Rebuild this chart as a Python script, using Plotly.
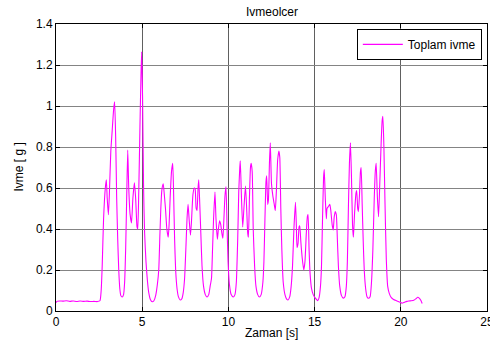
import plotly.graph_objects as go

# Acceleration magnitude over time
zaman = [
    0.00, 0.05, 0.20, 0.40, 0.60, 0.80, 1.00, 1.20, 1.40, 1.60, 1.80, 2.00, 2.20, 2.40, 2.55,
    2.62, 2.68, 2.76, 2.86, 2.92, 2.97, 3.04, 3.10, 3.18, 3.26, 3.34, 3.40, 3.46, 3.52, 3.58,
    3.64, 3.70, 3.76, 3.84, 3.92, 3.98, 4.04, 4.10, 4.16, 4.22, 4.30, 4.38, 4.46, 4.55, 4.62,
    4.70, 4.74, 4.80, 4.87, 4.93, 4.97, 5.02, 5.08, 5.14, 5.22, 5.30, 5.38, 5.48, 5.58, 5.68,
    5.78, 5.88, 5.96, 6.03, 6.08, 6.14, 6.22, 6.28, 6.35, 6.43, 6.51, 6.56, 6.62, 6.70, 6.77,
    6.82, 6.88, 6.94, 7.02, 7.10, 7.20, 7.30, 7.38, 7.46, 7.54, 7.60, 7.66, 7.72, 7.80, 7.86,
    7.94, 8.02, 8.07, 8.13, 8.18, 8.24, 8.28, 8.34, 8.40, 8.47, 8.56, 8.66, 8.76, 8.86, 8.94,
    9.02, 9.08, 9.14, 9.22, 9.28, 9.36, 9.42, 9.49, 9.56, 9.62, 9.68, 9.74, 9.80, 9.86, 9.92,
    9.98, 10.06, 10.16, 10.28, 10.38, 10.46, 10.54, 10.60, 10.66, 10.69, 10.76, 10.83, 10.90, 10.99, 11.06,
    11.12, 11.16, 11.22, 11.28, 11.32, 11.38, 11.44, 11.52, 11.60, 11.70, 11.80, 11.90, 12.00, 12.06, 12.12,
    12.18, 12.22, 12.28, 12.32, 12.38, 12.43, 12.50, 12.58, 12.66, 12.72, 12.78, 12.86, 12.93, 12.98, 13.04,
    13.10, 13.18, 13.28, 13.38, 13.46, 13.56, 13.64, 13.72, 13.80, 13.89, 13.94, 13.98, 14.04, 14.10, 14.14,
    14.20, 14.28, 14.37, 14.44, 14.52, 14.58, 14.62, 14.68, 14.74, 14.82, 14.92, 15.02, 15.12, 15.18, 15.26,
    15.34, 15.40, 15.46, 15.52, 15.56, 15.62, 15.68, 15.72, 15.80, 15.88, 15.94, 16.02, 16.08, 16.14, 16.20,
    16.26, 16.32, 16.38, 16.46, 16.56, 16.66, 16.76, 16.84, 16.90, 16.96, 17.02, 17.08, 17.14, 17.20, 17.25,
    17.32, 17.40, 17.44, 17.50, 17.54, 17.60, 17.66, 17.70, 17.76, 17.82, 17.88, 17.96, 18.04, 18.12, 18.22,
    18.30, 18.38, 18.46, 18.52, 18.57, 18.64, 18.71, 18.78, 18.86, 18.92, 18.96, 19.02, 19.08, 19.16, 19.24,
    19.33, 19.45, 19.58, 19.75, 19.92, 20.07, 20.20, 20.35, 20.46, 20.60, 20.75, 20.88, 20.98, 21.08, 21.16,
    21.24,
]

toplam_ivme = [
    0.040, 0.047, 0.049, 0.048, 0.050, 0.047, 0.049, 0.046, 0.049, 0.047, 0.048, 0.046, 0.047, 0.046, 0.050,
    0.100, 0.220, 0.450, 0.600, 0.640, 0.550, 0.470, 0.580, 0.780, 0.880, 0.980, 1.020, 0.850, 0.550, 0.350,
    0.200, 0.110, 0.075, 0.068, 0.080, 0.140, 0.300, 0.550, 0.785, 0.600, 0.470, 0.430, 0.550, 0.625, 0.550,
    0.410, 0.400, 0.580, 0.900, 1.150, 1.265, 1.050, 0.600, 0.380, 0.240, 0.150, 0.090, 0.055, 0.045, 0.050,
    0.075, 0.130, 0.200, 0.380, 0.500, 0.590, 0.620, 0.570, 0.500, 0.400, 0.360, 0.420, 0.550, 0.680, 0.720,
    0.580, 0.350, 0.200, 0.110, 0.070, 0.054, 0.060, 0.090, 0.160, 0.320, 0.450, 0.520, 0.450, 0.370, 0.440,
    0.565, 0.600, 0.595, 0.500, 0.490, 0.600, 0.640, 0.520, 0.380, 0.220, 0.120, 0.080, 0.068, 0.080, 0.120,
    0.160, 0.300, 0.450, 0.580, 0.450, 0.350, 0.400, 0.440, 0.420, 0.380, 0.355, 0.450, 0.560, 0.607, 0.420,
    0.240, 0.130, 0.080, 0.068, 0.080, 0.140, 0.350, 0.580, 0.700, 0.733, 0.550, 0.410, 0.500, 0.610, 0.500,
    0.380, 0.360, 0.550, 0.700, 0.720, 0.680, 0.400, 0.220, 0.120, 0.080, 0.068, 0.080, 0.140, 0.240, 0.450,
    0.630, 0.660, 0.520, 0.540, 0.720, 0.820, 0.620, 0.560, 0.520, 0.490, 0.580, 0.740, 0.780, 0.750, 0.500,
    0.300, 0.140, 0.080, 0.058, 0.054, 0.070, 0.120, 0.220, 0.400, 0.530, 0.420, 0.310, 0.330, 0.410, 0.415,
    0.340, 0.260, 0.200, 0.240, 0.380, 0.460, 0.470, 0.300, 0.180, 0.110, 0.080, 0.065, 0.055, 0.050, 0.065,
    0.120, 0.220, 0.450, 0.650, 0.690, 0.550, 0.450, 0.500, 0.510, 0.520, 0.490, 0.420, 0.395, 0.460, 0.485,
    0.470, 0.350, 0.220, 0.120, 0.075, 0.063, 0.070, 0.120, 0.240, 0.500, 0.720, 0.820, 0.650, 0.420, 0.360,
    0.480, 0.575, 0.587, 0.500, 0.485, 0.560, 0.680, 0.700, 0.520, 0.340, 0.200, 0.110, 0.070, 0.062, 0.070,
    0.140, 0.300, 0.550, 0.680, 0.720, 0.560, 0.460, 0.620, 0.820, 0.930, 0.950, 0.800, 0.540, 0.250, 0.120,
    0.086, 0.065, 0.056, 0.050, 0.044, 0.038, 0.042, 0.047, 0.049, 0.050, 0.052, 0.060, 0.067, 0.062, 0.052,
    0.037,
]

x_ticks = [0, 5, 10, 15, 20, 25]
y_ticks = [0, 0.2, 0.4, 0.6, 0.8, 1.0, 1.2, 1.4]
y_tick_labels = ["0", "0.2", "0.4", "0.6", "0.8", "1", "1.2", "1.4"]

FONT = "Liberation Sans, Arial, sans-serif"

fig = go.Figure()
fig.add_trace(go.Scatter(
    x=zaman, y=toplam_ivme, mode="lines", name="Toplam ivme",
    line=dict(color="#ff00ff", width=1.1, shape="spline", smoothing=0.5),
))

axis_common = dict(
    showline=True, linecolor="black", linewidth=1, mirror="ticks",
    ticks="inside", ticklen=4, tickcolor="black", zeroline=False,
    automargin=False,
    tickfont=dict(family=FONT, size=12, color="black"),
)

fig.update_layout(
    width=490, height=346,
    margin=dict(l=56, r=3, t=24, b=35),
    paper_bgcolor="white", plot_bgcolor="white",
    showlegend=True,
    legend=dict(
        x=0.988, y=0.983, xanchor="right", yanchor="top",
        bgcolor="white", bordercolor="black", borderwidth=1,
        font=dict(family=FONT, size=12, color="black"),
        itemwidth=40, tracegroupgap=0,
    ),
    xaxis=dict(range=[0, 25], tickvals=x_ticks, showgrid=True,
               gridcolor="#606060", gridwidth=1, ticklabeloverflow="allow",
               **axis_common),
    yaxis=dict(range=[0, 1.4], tickvals=y_ticks, ticktext=y_tick_labels,
               showgrid=True, gridcolor="#848484", gridwidth=1, **axis_common),
    annotations=[
        dict(text="Ivmeolcer", xref="paper", yref="paper", x=0.5, y=1,
             yshift=12, showarrow=False, yanchor="middle",
             font=dict(family=FONT, size=12, color="black")),
        dict(text="Zaman [s]", xref="paper", yref="paper", x=0.5, y=0,
             yshift=-22, showarrow=False, yanchor="middle",
             font=dict(family=FONT, size=12, color="black")),
        dict(text="Ivme [ g ]", xref="paper", yref="paper", x=0, y=0.5,
             xshift=-38, showarrow=False, textangle=-90, xanchor="center",
             font=dict(family=FONT, size=12, color="black")),
    ],
)

fig.write_html("out.html")
